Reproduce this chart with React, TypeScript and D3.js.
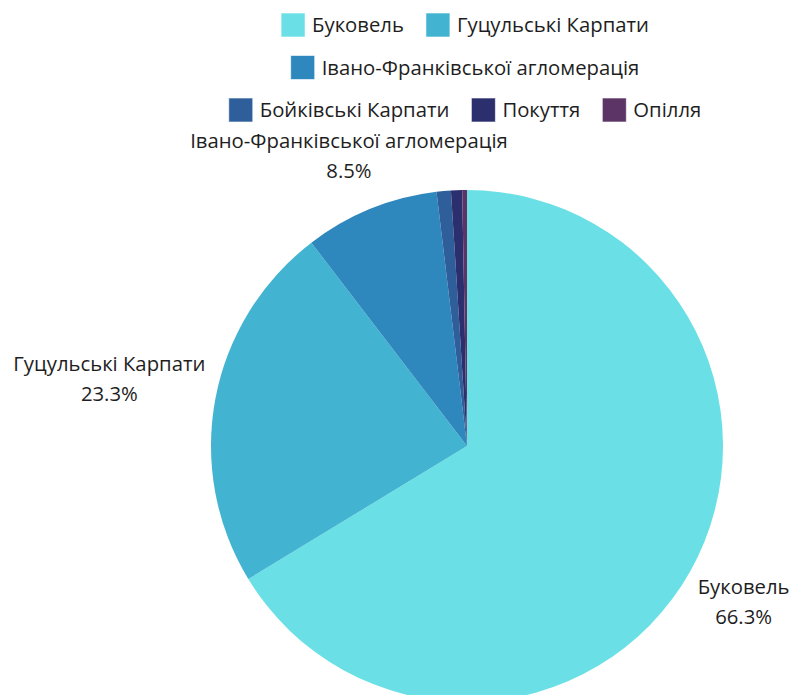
import React, { useEffect, useRef } from "react";
import * as d3 from "d3";

const categories = [
  "Буковель",
  "Гуцульські Карпати",
  "Івано-Франківської агломерація",
  "Бойківські Карпати",
  "Покуття",
  "Опілля",
];
const values = [66.3, 23.3, 8.5, 0.9, 0.7, 0.3];
const colors = ["#6ae0e6", "#42b3d1", "#2e88bd", "#2f5f9a", "#2c2f6e", "#5c3566"];
const labelled = [true, true, true, false, false, false];

const W = 791;
const H = 695;
const FONT = "'Open Sans', sans-serif";
const FS = 20.3;

export default function App() {
  const ref = useRef<SVGSVGElement>(null);

  useEffect(() => {
    const svg = d3.select(ref.current);
    svg.selectAll("*").remove();

    const cx = 467;
    const cy = 446;
    const r = 256;

    const pie = d3
      .pie<number>()
      .sort(null)
      .value((d) => d)
      .startAngle(0)
      .endAngle(2 * Math.PI);
    const arcs = pie(values);
    const arc = d3.arc<d3.PieArcDatum<number>>().innerRadius(0).outerRadius(r);

    const g = svg.append("g").attr("transform", `translate(${cx},${cy})`);
    g.selectAll("path")
      .data(arcs)
      .enter()
      .append("path")
      .attr("d", arc as any)
      .attr("fill", (_d, i) => colors[i]);

    // labels
    const total = d3.sum(values);
    arcs.forEach((a, i) => {
      if (!labelled[i]) return;
      const mid = (a.startAngle + a.endAngle) / 2;
      const vx = Math.sin(mid);
      const vy = -Math.cos(mid);
      const t = svg
        .append("text")
        .attr("font-family", FONT)
        .attr("font-size", FS)
        .attr("fill", "#1e1e1e")
        .attr("text-anchor", "middle");
      const l1 = t.append("tspan").text(categories[i]);
      const l2 = t
        .append("tspan")
        .text(((values[i] / total) * 100).toFixed(1) + "%");
      const w = Math.max(
        (l1.node() as SVGTSpanElement).getComputedTextLength(),
        (l2.node() as SVGTSpanElement).getComputedTextLength()
      );
      const h = 50;
      const target = r + 9;
      const nearest = (d: number) => {
        const bx = vx * d;
        const by = vy * d;
        const nx = Math.max(bx - w / 2, Math.min(0, bx + w / 2));
        const ny = Math.max(by - h / 2, Math.min(0, by + h / 2));
        return Math.hypot(nx, ny);
      };
      let lo = 0;
      let hi = 1000;
      for (let k = 0; k < 60; k++) {
        const m = (lo + hi) / 2;
        if (nearest(m) < target) lo = m;
        else hi = m;
      }
      const lx = cx + vx * hi;
      const ly = cy + vy * hi;
      l1.attr("x", lx).attr("y", ly - 15).attr("dy", "0.35em");
      l2.attr("x", lx).attr("y", ly + 15).attr("dy", "0.35em");
    });

    // legend
    const box = 24;
    const gapText = 7;
    const gapItem = 22;
    const maxW = 520;
    const legend = svg.append("g");
    const items = categories.map((c, i) => {
      const ig = legend.append("g");
      ig.append("rect")
        .attr("width", box)
        .attr("height", box)
        .attr("fill", colors[i])
        .attr("stroke", "rgba(255,255,255,0.6)")
        .attr("stroke-width", 1);
      const tx = ig
        .append("text")
        .attr("x", box + gapText)
        .attr("y", box / 2)
        .attr("dy", "0.35em")
        .attr("font-family", FONT)
        .attr("font-size", FS)
        .attr("fill", "#1e1e1e")
        .text(c);
      const tw = (tx.node() as SVGTextElement).getComputedTextLength();
      return { ig, width: box + gapText + tw };
    });
    const rows: { ig: any; width: number }[][] = [];
    let cur: { ig: any; width: number }[] = [];
    let curW = 0;
    items.forEach((it) => {
      const add = cur.length ? gapItem + it.width : it.width;
      if (cur.length && curW + add > maxW) {
        rows.push(cur);
        cur = [it];
        curW = it.width;
      } else {
        cur.push(it);
        curW += add;
      }
    });
    if (cur.length) rows.push(cur);
    const rowTop0 = 13;
    const rowStep = 42.5;
    rows.forEach((row, ri) => {
      const rw = d3.sum(row, (d) => d.width) + gapItem * (row.length - 1);
      let x = cx - 2 - rw / 2;
      row.forEach((it) => {
        it.ig.attr("transform", `translate(${x},${rowTop0 + ri * rowStep})`);
        x += it.width + gapItem;
      });
    });
  }, []);

  return (
    <svg
      ref={ref}
      width={W}
      height={H}
      style={{ position: "absolute", left: 0, top: 0, display: "block", background: "#fff" }}
    />
  );
}
